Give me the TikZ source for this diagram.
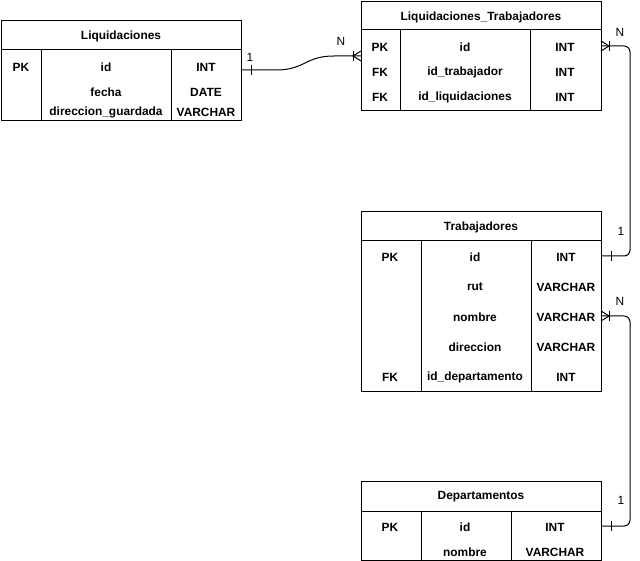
\documentclass[tikz,border=0pt]{standalone}
\usepackage{fontspec}
\setmainfont{Liberation Sans}
\usetikzlibrary{positioning}

\tikzset{
  tabla/.style={draw, line width=1pt, inner sep=0pt, anchor=north west},
  campo/.style={font=\bfseries\fontsize{11.9}{14}\selectfont, inner sep=0pt},
  card/.style={font=\fontsize{11.9}{14}\selectfont, inner sep=0pt},
  rel/.style={line width=1pt, rounded corners=6pt}
}

\begin{document}
\begin{tikzpicture}[x=1pt, y=-1pt, line width=1pt]
\useasboundingbox (0,0) rectangle (640,561);

% Liquidaciones
\node[tabla, minimum width=240pt, minimum height=100pt] (liq) at (1,20) {};
\draw (1,50) -- (241,50);
\draw (41,50) -- (41,120);
\draw (171,50) -- (171,120);
\node[campo] (liqT) at (121,36) {Liquidaciones};
\node[campo] (liqPK) at (21,67) {PK};
\node[campo] (liqId) at (106,67) {id};
\node[campo] (liqIdT) at (206,67) {INT};
\node[campo] (liqFe) at (106,92) {fecha};
\node[campo] (liqFeT) at (206,92) {DATE};
\node[campo] (liqDir) at (106,112) {direccion\_guardada};
\node[campo] (liqDirT) at (206,112) {VARCHAR};

% Liquidaciones_Trabajadores
\node[tabla, minimum width=240pt, minimum height=109pt] (lt) at (361,1) {};
\draw (361,30) -- (601,30);
\draw (400,30) -- (400,110);
\draw (530,30) -- (530,110);
\node[campo] (ltT) at (481,17) {Liquidaciones\_Trabajadores};
\node[campo] (ltPK) at (380,47) {PK};
\node[campo] (ltId) at (465,47) {id};
\node[campo] (ltIdT) at (565,47) {INT};
\node[campo] (ltFK1) at (380,72) {FK};
\node[campo] (ltTra) at (465,72) {id\_trabajador};
\node[campo] (ltTraT) at (565,72) {INT};
\node[campo] (ltFK2) at (380,97) {FK};
\node[campo] (ltLiq) at (465,97) {id\_liquidaciones};
\node[campo] (ltLiqT) at (565,97) {INT};

% Trabajadores
\node[tabla, minimum width=240pt, minimum height=180pt] (tr) at (361,211) {};
\draw (361,241) -- (601,241);
\draw (421,241) -- (421,391);
\draw (531,241) -- (531,391);
\node[campo] (trT) at (481,227) {Trabajadores};
\node[campo] (trPK) at (390,257) {PK};
\node[campo] (trId) at (475,257) {id};
\node[campo] (trIdT) at (566,257) {INT};
\node[campo] (trRut) at (475,287) {rut};
\node[campo] (trRutT) at (566,287) {VARCHAR};
\node[campo] (trNom) at (475,317) {nombre};
\node[campo] (trNomT) at (566,317) {VARCHAR};
\node[campo] (trDir) at (475,347) {direccion};
\node[campo] (trDirT) at (566,347) {VARCHAR};
\node[campo] (trFK) at (390,377) {FK};
\node[campo] (trDep) at (475,377) {id\_departamento};
\node[campo] (trDepT) at (566,377) {INT};

% Departamentos
\node[tabla, minimum width=240pt, minimum height=79pt] (dep) at (361,481) {};
\draw (361,511) -- (601,511);
\draw (421,511) -- (421,560);
\draw (511,511) -- (511,560);
\node[campo] (depT) at (481,497) {Departamentos};
\node[campo] (depPK) at (390,527) {PK};
\node[campo] (depId) at (465,527) {id};
\node[campo] (depIdT) at (555,527) {INT};
\node[campo] (depNom) at (465,552) {nombre};
\node[campo] (depNomT) at (555,552) {VARCHAR};

% puntos de union
\coordinate (pLiq) at (241,70);
\coordinate (pLtL) at (361,56);
\coordinate (pLtR) at (601,46);
\coordinate (pTrId) at (601,256);
\coordinate (pTrNom) at (601,316);
\coordinate (pDep) at (601,526);

% relaciones
\draw[rel] (pLiq) -- (270,70) .. controls (305,70) and (305,56) .. (340,56) -- (pLtL);
\draw[rel] (pLtR) -- (630,46) -- (630,256) -- (pTrId);
\draw[rel] (pTrNom) -- (630,316) -- (630,526) -- (pDep);

% uno
\draw (251,65) -- (251,75);
\draw (611,251) -- (611,261);
\draw (611,521) -- (611,531);

% muchos
\draw (361,51) -- (353,56) -- (361,61);
\draw (353,51) -- (353,61);
\draw (601,41) -- (609,46) -- (601,51);
\draw (609,41) -- (609,51);
\draw (601,311) -- (609,316) -- (601,321);
\draw (609,311) -- (609,321);

\node[card] (c1) at (250,57) {1};
\node[card] (c2) at (341,41) {N};
\node[card] (c3) at (620,32) {N};
\node[card] (c4) at (621,231) {1};
\node[card] (c5) at (620,301) {N};
\node[card] (c6) at (621,500) {1};

\end{tikzpicture}
\end{document}
